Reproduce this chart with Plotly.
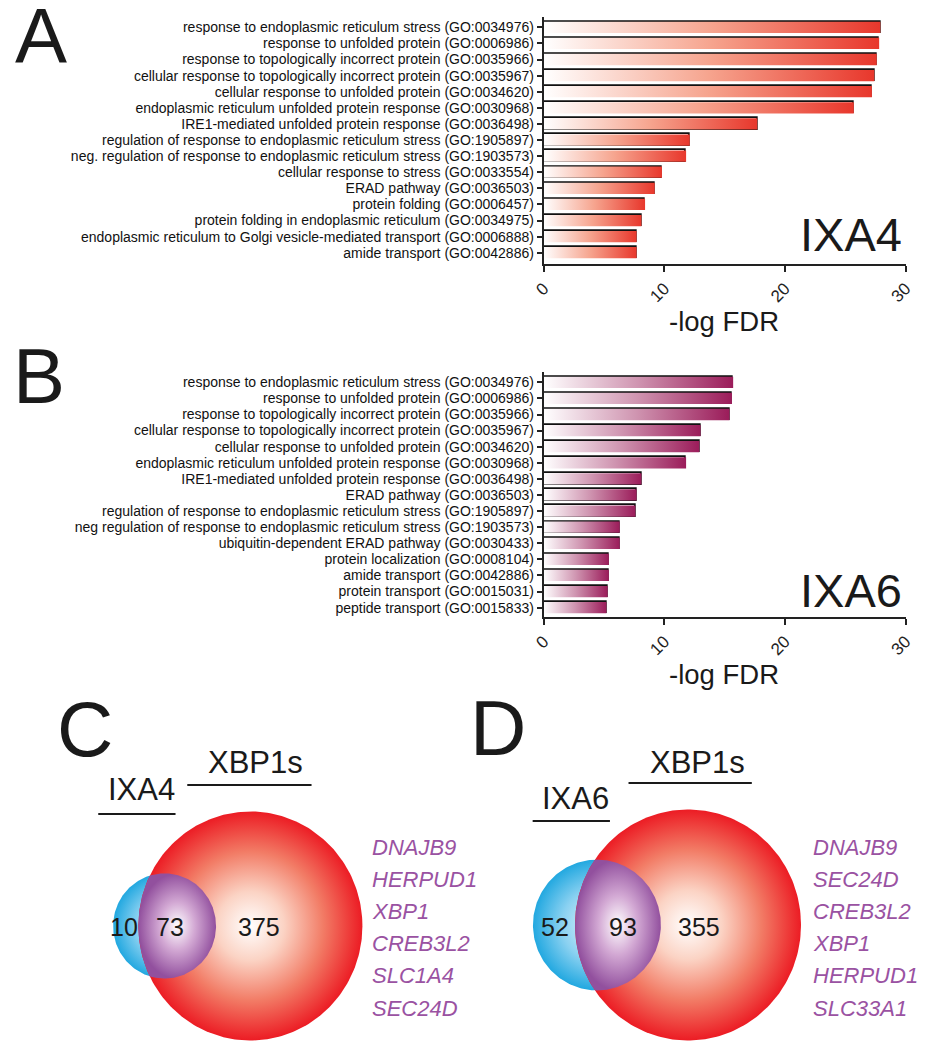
import numpy as np
import plotly.graph_objects as go

# the page body keeps its default 8px margin, so the figure is drawn 8px in
# from the top-left corner; all positions below are in window pixels
OFF = 8
W, H = 933, 1050
FW, FH = W - OFF, H - OFF

# ---- data ----
terms_a = [
    "response to endoplasmic reticulum stress (GO:0034976)",
    "response to unfolded protein (GO:0006986)",
    "response to topologically incorrect protein (GO:0035966)",
    "cellular response to topologically incorrect protein (GO:0035967)",
    "cellular response to unfolded protein (GO:0034620)",
    "endoplasmic reticulum unfolded protein response (GO:0030968)",
    "IRE1-mediated unfolded protein response (GO:0036498)",
    "regulation of response to endoplasmic reticulum stress (GO:1905897)",
    "neg. regulation of response to endoplasmic reticulum stress (GO:1903573)",
    "cellular response to stress (GO:0033554)",
    "ERAD pathway (GO:0036503)",
    "protein folding (GO:0006457)",
    "protein folding in endoplasmic reticulum (GO:0034975)",
    "endoplasmic reticulum to Golgi vesicle-mediated transport (GO:0006888)",
    "amide transport (GO:0042886)",
]
fdr_a = [27.9, 27.8, 27.6, 27.4, 27.2, 25.7, 17.7, 12.1, 11.8, 9.8, 9.2, 8.4, 8.1, 7.7, 7.7]

terms_b = [
    "response to endoplasmic reticulum stress (GO:0034976)",
    "response to unfolded protein (GO:0006986)",
    "response to topologically incorrect protein (GO:0035966)",
    "cellular response to topologically incorrect protein (GO:0035967)",
    "cellular response to unfolded protein (GO:0034620)",
    "endoplasmic reticulum unfolded protein response (GO:0030968)",
    "IRE1-mediated unfolded protein response (GO:0036498)",
    "ERAD pathway (GO:0036503)",
    "regulation of response to endoplasmic reticulum stress (GO:1905897)",
    "neg regulation of response to endoplasmic reticulum stress (GO:1903573)",
    "ubiquitin-dependent ERAD pathway (GO:0030433)",
    "protein localization (GO:0008104)",
    "amide transport (GO:0042886)",
    "protein transport (GO:0015031)",
    "peptide transport (GO:0015833)",
]
fdr_b = [15.7, 15.6, 15.4, 13.0, 12.9, 11.8, 8.1, 7.7, 7.6, 6.3, 6.3, 5.4, 5.4, 5.3, 5.2]

x_ticks = [0, 10, 20, 30]

# venn counts: only IXA, shared, only XBP1s
venn_c = [10, 73, 375]
venn_d = [52, 93, 355]
genes_c = ["DNAJB9", "HERPUD1", "XBP1", "CREB3L2", "SLC1A4", "SEC24D"]
genes_d = ["DNAJB9", "SEC24D", "CREB3L2", "XBP1", "HERPUD1", "SLC33A1"]

FONT = "Liberation Sans"


def px(x):
    return (x - OFF) / FW


def py(y):
    return 1 - (y - OFF) / FH


def circle(cx, cy, r, n=240):
    t = np.linspace(0, 2 * np.pi, n)
    return cx + r * np.cos(t), cy + r * np.sin(t)


def lens(c1, c2, n=400):
    # intersection area of two circles as a polygon
    x1, y1 = circle(*c1, n)
    x2, y2 = circle(*c2, n)
    m1 = (x1 - c2[0]) ** 2 + (y1 - c2[1]) ** 2 <= c2[2] ** 2
    m2 = (x2 - c1[0]) ** 2 + (y2 - c1[1]) ** 2 <= c1[2] ** 2
    xs = np.concatenate([x1[m1], x2[m2]])
    ys = np.concatenate([y1[m1], y2[m2]])
    ang = np.arctan2(ys - ys.mean(), xs - xs.mean())
    o = np.argsort(ang)
    xs, ys = xs[o], ys[o]
    return np.append(xs, xs[0]), np.append(ys, ys[0])


fig = go.Figure()

# ---- bar panels ----
HALF = 0.35
panels = [
    (terms_a, fdr_a, "x", "y", [[0, "#FFFFFF"], [0.5, "#F6A48E"], [1, "#E8372C"]]),
    (terms_b, fdr_b, "x2", "y2", [[0, "#FFFFFF"], [0.5, "#CF94B0"], [1, "#9B1C5A"]]),
]
for terms, vals, xa, ya, cs in panels:
    for i, v in enumerate(vals):
        fig.add_trace(go.Scatter(
            x=[0, v, v, 0, 0], y=[i - HALF, i - HALF, i + HALF, i + HALF, i - HALF],
            mode="lines", fill="toself",
            fillgradient=dict(type="horizontal", colorscale=cs),
            line=dict(color="rgba(0,0,0,0)", width=0),
            hoverinfo="skip", showlegend=False, xaxis=xa, yaxis=ya))
    fig.add_trace(go.Bar(
        x=vals, y=list(range(len(vals))), orientation="h", width=2 * HALF,
        marker=dict(color="rgba(0,0,0,0)", line=dict(color="#111111", width=1.8)),
        showlegend=False, xaxis=xa, yaxis=ya))

xax = dict(range=[0, 30], tickvals=x_ticks, ticks="outside", ticklen=6, tickwidth=2,
           tickcolor="#222", showline=True, linewidth=2, linecolor="#222",
           showgrid=False, zeroline=False, tickangle=-45,
           tickfont=dict(family=FONT, size=17, color="#222"))
yax = dict(tickvals=list(range(15)), ticks="outside", ticklen=5, tickwidth=1.5,
           tickcolor="#222", showline=True, linewidth=2, linecolor="#222",
           showgrid=False, zeroline=False,
           tickfont=dict(family=FONT, size=14, color="#111"))

# ---- venn panels ----
venns = [
    # (counts, blue circle, red circle) as (cx, cy, r) in window pixels
    (venn_c, (156.8, 926, 52.6), (244.5, 926, 114.5)),
    (venn_d, (598.7, 925, 65.4), (691.8, 925, 115.5)),
]
blue_cs = [[0, "#E6F5FC"], [0.55, "#8AD1F1"], [1, "#22A8E0"]]
red_cs = [[0, "#FFFFFF"], [0.3, "#FBD3C4"], [0.65, "#F27C66"], [1, "#EC1C24"]]
purple_cs = [[0, "#FFFFFF"], [0.45, "#D3A9D4"], [1, "#92509E"]]
for counts, blue, red in venns:
    for c, cs in [(blue, blue_cs), (red, red_cs)]:
        cx, cy = circle(*c)
        fig.add_trace(go.Scatter(
            x=cx, y=cy, mode="lines", fill="toself",
            fillgradient=dict(type="radial", colorscale=cs),
            line=dict(color="rgba(0,0,0,0)", width=0),
            hoverinfo="skip", showlegend=False, xaxis="x3", yaxis="y3"))
    lx, ly = lens(blue, red)
    fig.add_trace(go.Scatter(
        x=lx, y=ly, mode="lines", fill="toself",
        fillgradient=dict(type="radial", colorscale=purple_cs),
        line=dict(color="rgba(0,0,0,0)", width=0),
        hoverinfo="skip", showlegend=False, xaxis="x3", yaxis="y3"))

annotations = []


def txt(x, y, s, size, ref="paper", xanchor="center", color="#1a1a1a", italic=False):
    if ref == "paper":
        x, y, xr, yr = px(x), py(y), "paper", "paper"
    else:
        xr, yr = "x3", "y3"
    annotations.append(dict(
        x=x, y=y, xref=xr, yref=yr, text=s, showarrow=False,
        xanchor=xanchor, yanchor="middle",
        font=dict(family=FONT, size=size, color=color,
                  style="italic" if italic else "normal")))


# panel letters
txt(30, 36, "A", 78)
txt(28, 376, "B", 78)
txt(75, 729, "C", 78)
txt(498, 728, "D", 78)

txt(913, 235, "IXA4", 47, xanchor="right")
txt(913, 590, "IXA6", 47, xanchor="right")
txt(729, 322, "-log FDR", 27.5)
txt(729, 674, "-log FDR", 27.5)

# venn labels
count_pos = [
    (venn_c, [115, 162, 253]),
    (venn_d, [556, 625, 703]),
]
for counts, xs in count_pos:
    for v, x in zip(counts, xs):
        txt(x, 927, str(v), 25, ref="v")

txt(250, 762, "XBP1s", 31, ref="v")
txt(133, 789, "IXA4", 31, ref="v")
txt(702, 762, "XBP1s", 31, ref="v")
txt(577, 798, "IXA6", 31, ref="v")

for genes, x0 in [(genes_c, 367), (genes_d, 817)]:
    for k, g in enumerate(genes):
        txt(x0, 847 + 32.2 * k, g, 22, ref="v", xanchor="left", color="#9A52A2", italic=True)

shapes = []
for x0, x1, y in [(180, 307, 785), (89, 168, 814), (631, 757, 783), (533, 612, 821)]:
    shapes.append(dict(type="line", xref="x3", yref="y3", x0=x0, x1=x1, y0=y, y1=y,
                       line=dict(color="#1a1a1a", width=2)))

fig.update_layout(
    width=FW, height=FH, margin=dict(l=0, r=0, t=0, b=0),
    paper_bgcolor="white", plot_bgcolor="white",
    showlegend=False, bargap=0,
    xaxis=dict(xax, domain=[px(544.3), px(914.3)], anchor="y"),
    yaxis=dict(yax, ticktext=terms_a, range=[14.70, -0.64],
               domain=[py(264), py(17)], anchor="x"),
    xaxis2=dict(xax, domain=[px(544.3), px(914.3)], anchor="y2"),
    yaxis2=dict(yax, ticktext=terms_b, range=[14.58, -0.64],
                domain=[py(617), py(372)], anchor="x2"),
    xaxis3=dict(range=[OFF, W], domain=[0, 1], visible=False, anchor="y3"),
    yaxis3=dict(range=[H, 680], domain=[0, py(680)], visible=False, anchor="x3"),
    annotations=annotations,
    shapes=shapes,
)

fig.write_html("out.html")
